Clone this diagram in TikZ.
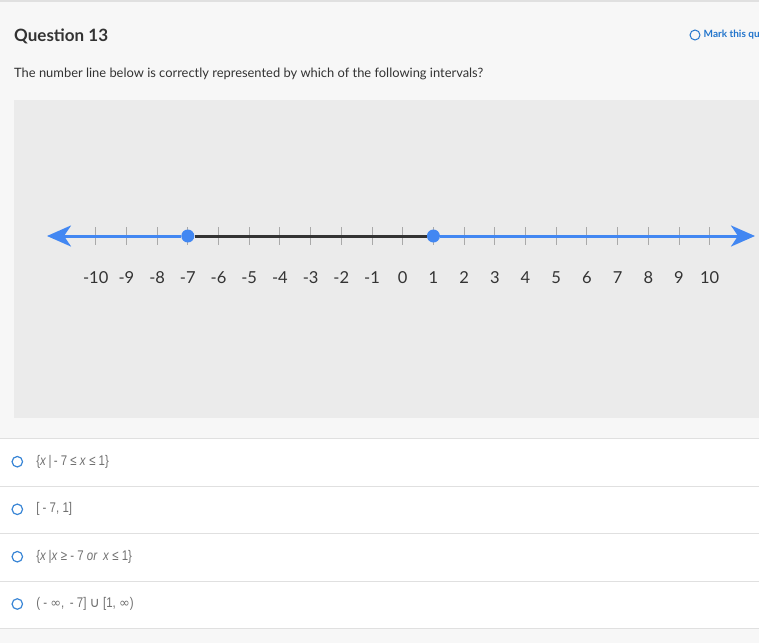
\documentclass[tikz,border=0pt]{standalone}
\usepackage{fontspec}
\setmainfont{Lato}
\newfontfamily\optfont[FakeStretch=0.82]{Liberation Sans}
\newfontfamily\symfont{DejaVu Sans}
\newcommand{\infsym}{{\symfont\fontsize{13}{16}\selectfont ∞}}
\usetikzlibrary{positioning,arrows.meta}

\definecolor{pagebg}{HTML}{F7F7F7}
\definecolor{panelbg}{HTML}{EBEBEB}
\definecolor{rulegray}{HTML}{E0E0E0}
\definecolor{tickgray}{HTML}{A9A9A9}
\definecolor{dotblue}{HTML}{4287F2}
\definecolor{segblack}{HTML}{333333}
\definecolor{txtgray}{HTML}{707070}
\definecolor{radioblue}{HTML}{3A86D6}
\definecolor{linkblue}{HTML}{2375CC}

\tikzset{
  tickmark/.style={draw=tickgray,line width=1pt},
  blueline/.style={draw=dotblue,line width=3pt,
    -{Stealth[length=24pt,width=21pt,inset=7pt]}},
  segline/.style={draw=segblack,line width=3pt},
  endpt/.style={circle,fill=dotblue,inner sep=0pt,minimum size=13pt},
  numlabel/.style={font=\fontsize{16.5}{18}\selectfont,text=segblack},
  radio/.style={circle,draw=radioblue,line width=1.2pt,inner sep=0pt,minimum size=10.5pt},
  opttext/.style={font=\optfont\fontsize{14}{16}\selectfont,text=txtgray,anchor=west}
}

\begin{document}
\begin{tikzpicture}[x=1pt,y=-1pt,inner sep=0pt]
		\useasboundingbox (0,0) rectangle (759,643);
		% page, panel and option rows
		\fill[pagebg] (0,0) rectangle (759,643);
		\fill[rulegray] (0,0) rectangle (759,2);
		\fill[panelbg] (14,100) rectangle (759,418);
		\fill[white] (0,438) rectangle (759,628);
		\foreach \y in {438,486,533,581,628}
			\draw[rulegray,line width=1pt] (0,\y) -- (759,\y);

		\node[anchor=west,font=\bfseries\fontsize{17}{20}\selectfont,text=segblack] (title) at (14,36) {Question 13};
		\node[circle,draw=linkblue,line width=1pt,minimum size=10pt] (mark) at (695,35) {};
		\node[anchor=west,right=3pt of mark,font=\bfseries\fontsize{10}{12}\selectfont,text=linkblue] (marktext) {Mark this qu};
		\node[anchor=west,font=\fontsize{12.9}{15}\selectfont,text=segblack] (prompt) at (14,74) {The number line below is correctly represented by which of the following intervals?};

		% number line
		\coordinate (ltip) at (47,236);
		\coordinate (rtip) at (755,236);
		\foreach \n in {-10,...,10} {
			\coordinate (t\n) at ({402.7+30.7*\n},236);
			\draw[tickmark] ({402.7+30.7*\n},227) -- ({402.7+30.7*\n},245);
			\node[numlabel] (lab\n) at ({402.7+30.7*\n},278) {\n};
		}
		\node[endpt] (lo) at (t-7) {};
		\node[endpt] (hi) at (t1) {};
		\draw[segline] (lo) -- (hi);
		\draw[blueline] (lo) -- (ltip);
		\draw[blueline] (hi) -- (rtip);

		% answer choices
		\node[radio] (o1) at (17.3,461.7) {};
		\node[radio] (o2) at (17.3,509.3) {};
		\node[radio] (o3) at (17.3,556.7) {};
		\node[radio] (o4) at (17.3,604) {};
		\node[opttext,right=13pt of o1] (o1t) {\{\textit{x}\,|\,- 7 ≤ \textit{x} ≤ 1\}};
		\node[opttext,right=13pt of o2] (o2t) {[ - 7, 1]};
		\node[opttext,right=13pt of o3] (o3t) {\{\textit{x}\,|\textit{x} ≥ - 7 \textit{or}\, \textit{x} ≤ 1\}};
		\node[opttext,right=13pt of o4] (o4t) {( - \infsym, \,- 7] {\symfont\fontsize{14}{16}\selectfont ∪} [1, \infsym)};
	\end{tikzpicture}
\end{document}
